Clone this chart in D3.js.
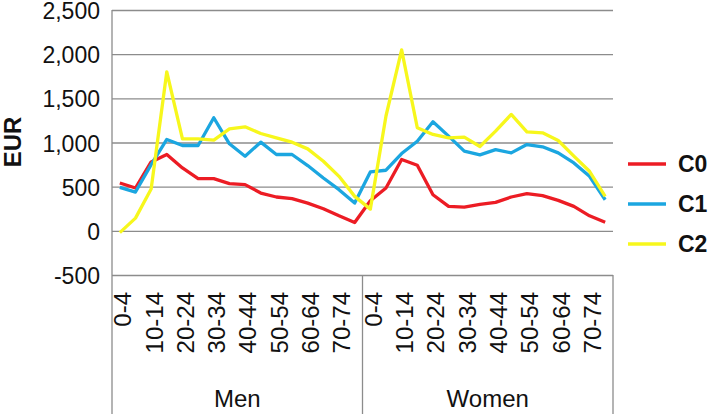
<!DOCTYPE html>
<html>
<head>
<meta charset="utf-8">
<script src="https://cdn.jsdelivr.net/npm/d3@7"></script>
<style>
  body { margin: 0; background: #fff; }
  svg { display: block; font-family: "Liberation Sans", Arial, sans-serif; }
</style>
</head>
<body>
<svg id="chart" width="709" height="414"></svg>
<script>
// age bands per group
const ages = ["0-4","5-9","10-14","15-19","20-24","25-29","30-34","35-39",
              "40-44","45-49","50-54","55-59","60-64","65-69","70-74","75-79"];
const groups = ["Men", "Women"];
const yTicks = [-500, 0, 500, 1000, 1500, 2000, 2500];

// values (EUR), men then women
const c0Men   = [542, 485, 780, 864, 712, 591, 591, 534, 523, 428, 383, 364, 314, 250, 170, 95];
const c0Women = [340, 485, 807, 742, 409, 277, 269, 300, 322, 383, 420, 398, 345, 277, 170, 98];
const c1Men   = [492, 439, 750, 1034, 966, 966, 1280, 985, 845, 1004, 864, 864, 739, 598, 466, 314];
const c1Women = [667, 686, 875, 1015, 1235, 1072, 902, 860, 920, 883, 977, 951, 883, 769, 617, 352];
const c2Men   = [-20, 144, 473, 1800, 1042, 1042, 1027, 1155, 1178, 1102, 1053, 1004, 928, 788, 617, 390];
const c2Women = [246, 1300, 2049, 1167, 1091, 1053, 1061, 955, 1129, 1318, 1121, 1110, 1023, 845, 674, 390];

const seriesNames = ["C0", "C1", "C2"];
const colors = ["#ec1c24", "#1ba6e0", "#f7f71c"];

const keys = [];
groups.forEach(g => ages.forEach(a => keys.push(g + "|" + a)));
const series = [
  c0Men.concat(c0Women),
  c1Men.concat(c1Women),
  c2Men.concat(c2Women)
];

const svg = d3.select("#chart");
const margin = {top: 10, left: 112, right: 96};
const width = 709, height = 414;
const plotBottom = 275;

const x = d3.scaleBand()
  .domain(keys)
  .range([margin.left, width - margin.right])
  .padding(0);
const xc = k => x(k) + x.bandwidth() / 2;

const y = d3.scaleLinear()
  .domain([-500, 2500])
  .range([plotBottom, margin.top]);

// gridlines
svg.append("g")
  .attr("transform", `translate(${margin.left},0)`)
  .call(d3.axisLeft(y).tickValues(yTicks).tickSize(-(width - margin.right - margin.left)).tickFormat(""))
  .call(g => g.select(".domain").remove())
  .call(g => g.selectAll("line").attr("stroke", "#8c8c8c").attr("stroke-width", 1.3));

// y tick labels (plain hyphen for negatives, as in the original)
const fmt = d3.format(",");
svg.append("g")
  .attr("transform", `translate(${margin.left - 12},0)`)
  .call(d3.axisLeft(y).tickValues(yTicks).tickSize(0).tickFormat(d => fmt(d).replace("\u2212", "-")))
  .call(g => g.select(".domain").remove())
  .call(g => g.selectAll("text")
    .attr("x", 0)
    .attr("dy", "0.37em")
    .attr("font-size", "23px")
    .attr("font-family", "'Liberation Sans', Arial, sans-serif")
    .attr("fill", "#111"));

// left axis line, group box for category area
const xL = margin.left, xR = width - margin.right;
const xMid = x("Women|0-4");
[xL, xMid, xR].forEach((xv, i) => {
  svg.append("line")
    .attr("x1", xv).attr("x2", xv)
    .attr("y1", i === 0 ? margin.top : plotBottom)
    .attr("y2", height)
    .attr("stroke", "#8c8c8c").attr("stroke-width", 1.3);
});

// category labels, every other band
svg.append("g")
  .selectAll("text")
  .data(keys.filter((k, i) => i % 2 === 0))
  .join("text")
  .attr("transform", d => `translate(${xc(d) + 3},${plotBottom + 17}) rotate(-90)`)
  .attr("text-anchor", "end")
  .attr("dy", "0.35em")
  .attr("font-size", "24px")
  .attr("fill", "#111")
  .text(d => d.split("|")[1]);

// group labels
svg.append("g")
  .selectAll("text")
  .data(groups)
  .join("text")
  .attr("x", g => (x(g + "|" + ages[0]) + x(g + "|" + ages[ages.length - 1]) + x.bandwidth()) / 2)
  .attr("y", 407)
  .attr("text-anchor", "middle")
  .attr("font-size", "24px")
  .attr("fill", "#111")
  .text(d => d);

// lines
const line = d3.line()
  .x((d, i) => xc(keys[i]))
  .y(d => y(d));

svg.append("g")
  .selectAll("path")
  .data(series)
  .join("path")
  .attr("fill", "none")
  .attr("stroke", (d, i) => colors[i])
  .attr("stroke-width", 3.3)
  .attr("stroke-linejoin", "round")
  .attr("d", line);

// y title
svg.append("text")
  .attr("transform", `translate(13,142) rotate(-90)`)
  .attr("text-anchor", "middle")
  .attr("dy", "0.35em")
  .attr("font-size", "24px")
  .attr("font-weight", "bold")
  .attr("fill", "#111")
  .text("EUR");

// legend
const legendY = d3.scalePoint().domain(seriesNames).range([164, 244]);
const lg = svg.append("g")
  .selectAll("g")
  .data(seriesNames)
  .join("g")
  .attr("transform", d => `translate(628,${legendY(d)})`);
lg.append("line")
  .attr("x1", 0).attr("x2", 38)
  .attr("stroke", (d, i) => colors[i])
  .attr("stroke-width", 3.5);
lg.append("text")
  .attr("x", 50)
  .attr("dy", "0.36em")
  .attr("font-size", "23px")
  .attr("font-weight", "bold")
  .attr("fill", "#111")
  .text(d => d);
</script>
</body>
</html>
